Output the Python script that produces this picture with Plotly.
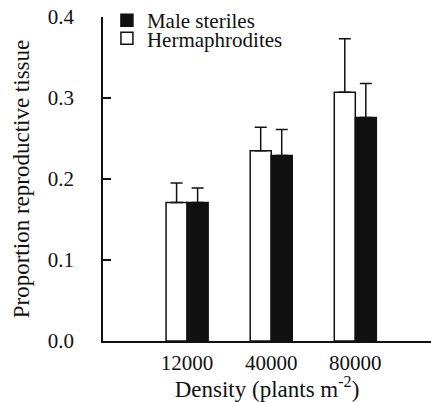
import plotly.graph_objects as go

categories = ["12000", "40000", "80000"]
herm_values = [0.171, 0.235, 0.307]
herm_err = [0.024, 0.029, 0.066]
male_values = [0.171, 0.229, 0.276]
male_err = [0.018, 0.032, 0.042]
y_ticks = [0.0, 0.1, 0.2, 0.3, 0.4]
y_tick_labels = ["0.0", "0.1", "0.2", "0.3", "0.4"]

xpos = [1, 2, 3]
font_family = "Liberation Serif, 'Times New Roman', serif"
FS = 21
TFS = 23

fig = go.Figure()
fig.add_trace(go.Bar(
    x=xpos, y=herm_values, name="Hermaphrodites", legend="legend2",
    marker=dict(color="white", line=dict(color="#111", width=1.5)),
    error_y=dict(type="data", array=herm_err, arrayminus=[0, 0, 0], symmetric=False,
                 color="#111", thickness=1.5, width=6),
))
fig.add_trace(go.Bar(
    x=xpos, y=male_values, name="Male steriles", legend="legend",
    marker=dict(color="#111", line=dict(color="#111", width=1.5)),
    error_y=dict(type="data", array=male_err, arrayminus=[0, 0, 0], symmetric=False,
                 color="#111", thickness=1.5, width=6),
))

leg_common = dict(xanchor="left", yanchor="middle", bgcolor="rgba(0,0,0,0)",
                  font=dict(size=FS, family=font_family, color="#111"),
                  itemwidth=30, borderwidth=0)

fig.update_layout(
    width=431, height=402,
    margin=dict(l=103, r=0, t=9, b=61),
    paper_bgcolor="white", plot_bgcolor="white",
    barmode="group", bargap=0.5, bargroupgap=0,
    font=dict(family=font_family, size=FS, color="#111"),
    showlegend=True,
    legend=dict(x=0.012, y=0.990, **leg_common),
    legend2=dict(x=0.012, y=0.933, **leg_common),
    xaxis=dict(range=[0, 3.9], tickvals=xpos, ticktext=categories,
               showline=True, linecolor="#111", linewidth=1.5,
               ticks="", showgrid=False, zeroline=False, automargin=False,
               ticklabelstandoff=2, tickfont=dict(size=FS),
               title=dict(text="Density (plants m<sup>-2</sup>)", standoff=5,
                          font=dict(size=TFS))),
    yaxis=dict(range=[0, 0.4], tickvals=y_ticks, ticktext=y_tick_labels,
               showline=True, linecolor="#111", linewidth=1.5,
               ticks="inside", ticklen=8, tickwidth=1.5, tickcolor="#111",
               showgrid=False, zeroline=False, automargin=False,
               ticklabelstandoff=23, tickfont=dict(size=FS),
               title=dict(text="Proportion reproductive tissue", standoff=12,
                          font=dict(size=TFS))),
)

fig.write_html("out.html", config={"displayModeBar": False},
               post_script="document.body.style.margin='0';")
